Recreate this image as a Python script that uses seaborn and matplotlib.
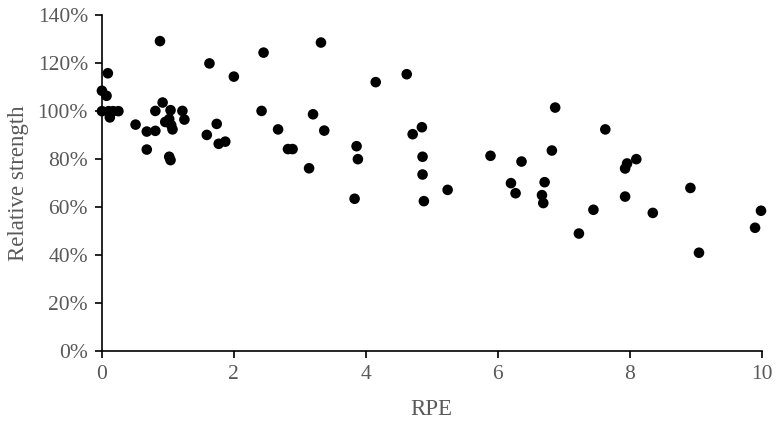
import numpy as np
import pandas as pd
import matplotlib
matplotlib.use("Agg")
import matplotlib.pyplot as plt
import seaborn as sns
from matplotlib.ticker import PercentFormatter, MultipleLocator

# RPE vs relative strength (%)
rpe = [0.0, 0.07, 0.09, 0.0, 0.1, 0.12, 0.17, 0.25,
       0.51, 0.68, 0.68, 0.81, 0.88, 0.81, 0.92, 0.96, 1.05, 1.04, 1.02, 1.07,
       1.02, 1.04, 1.22, 1.25, 1.63, 1.59, 1.74, 1.77, 1.87, 2.0,
       2.45, 3.32, 2.42, 2.67, 2.82, 2.89, 3.14, 3.2, 3.37, 3.86, 3.88, 3.83,
       4.15, 4.62, 4.71, 4.85, 4.86, 4.86, 4.88, 5.24, 5.89,
       6.87, 7.63, 6.82, 6.36, 8.1, 7.96, 7.93, 6.2, 6.27, 6.71, 6.67, 6.69,
       7.93, 7.45, 8.92, 8.35, 9.99, 7.23, 9.9, 9.05]
strength = [108.5, 106.4, 115.8, 100.0, 100.0, 97.4, 100.0, 100.0,
            94.4, 91.5, 84.0, 91.8, 129.2, 100.1, 103.6, 95.5, 94.2, 100.4, 96.7, 92.4,
            81.0, 79.6, 100.1, 96.5, 119.9, 90.1, 94.7, 86.4, 87.3, 114.4,
            124.4, 128.6, 100.1, 92.4, 84.2, 84.2, 76.2, 98.7, 91.9, 85.4, 80.0, 63.5,
            112.1, 115.4, 90.4, 93.3, 81.0, 73.6, 62.5, 67.2, 81.4,
            101.5, 92.4, 83.6, 79.0, 80.0, 78.2, 76.1, 70.0, 65.8, 70.4, 65.0, 61.7,
            64.4, 58.9, 68.0, 57.6, 58.5, 49.0, 51.4, 41.0]

df = pd.DataFrame({"RPE": rpe, "Relative strength": strength})

sns.set_theme(style="white")
plt.rcParams["font.family"] = ["Liberation Serif", "DejaVu Serif"]
grey = "#595959"

fig = plt.figure(figsize=(7.78, 4.22), dpi=100)
ax = fig.add_axes([0.131, 0.168, 0.848, 0.796])

sns.scatterplot(data=df, x="RPE", y="Relative strength", ax=ax,
                color="black", s=58, edgecolor="none", clip_on=False, zorder=3)

ax.set_xlim(0, 10)
ax.set_ylim(0, 140)
ax.xaxis.set_major_locator(MultipleLocator(2))
ax.yaxis.set_major_locator(MultipleLocator(20))
ax.yaxis.set_major_formatter(PercentFormatter(decimals=0))

for side in ["top", "right"]:
    ax.spines[side].set_visible(False)
for side in ["left", "bottom"]:
    ax.spines[side].set_color("black")
    ax.spines[side].set_linewidth(1.2)

ax.tick_params(axis="both", which="major", direction="out", length=5, width=1.2,
               color="black", labelcolor=grey, labelsize=15.5, pad=5, bottom=True, left=True)

ax.set_xlabel("RPE", fontsize=16.5, color=grey, labelpad=11)
ax.set_ylabel("Relative strength", fontsize=16.5, color=grey, labelpad=6)

fig.savefig("out.png", dpi=100)
